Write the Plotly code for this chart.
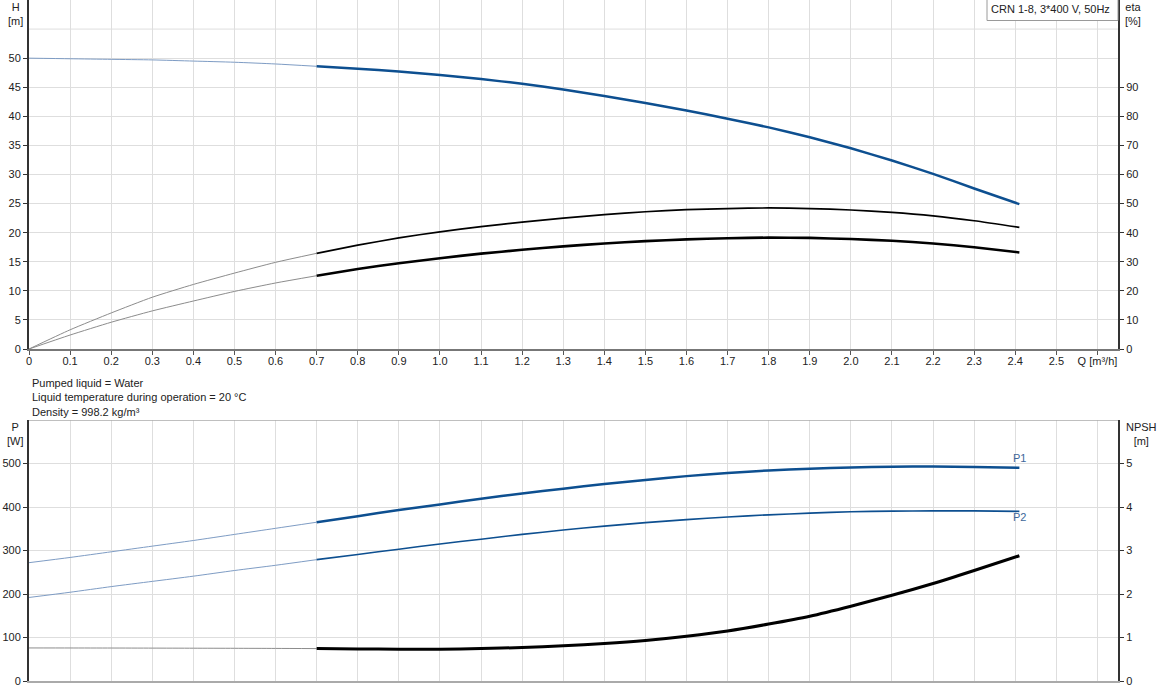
import plotly.graph_objects as go

# ---------------- data ----------------
q_lo = [0, 0.1, 0.2, 0.3, 0.4, 0.5, 0.6, 0.7]
q_hi = [0.7, 0.8, 0.9, 1.0, 1.1, 1.2, 1.3, 1.4, 1.5, 1.6, 1.7, 1.8, 1.9, 2.0, 2.1, 2.2, 2.3, 2.41]

h_lo = [50.0, 49.9, 49.8, 49.7, 49.5, 49.3, 49.0, 48.6]
h_hi = [48.6, 48.2, 47.7, 47.1, 46.4, 45.6, 44.6, 43.5, 42.3, 41.0, 39.6, 38.1,
        36.4, 34.5, 32.4, 30.1, 27.6, 24.9]

eta_a_lo = [0, 6.6, 12.4, 17.8, 22.2, 26.1, 29.8, 32.9]
eta_a_hi = [32.9, 35.7, 38.2, 40.3, 42.1, 43.6, 45.0, 46.2, 47.2, 47.9, 48.3, 48.5,
            48.3, 47.8, 47.0, 45.8, 44.1, 41.8]

eta_b_lo = [0, 4.8, 9.2, 13.1, 16.5, 19.8, 22.7, 25.2]
eta_b_hi = [25.2, 27.5, 29.5, 31.2, 32.8, 34.1, 35.3, 36.3, 37.1, 37.7, 38.1, 38.3,
            38.2, 37.8, 37.2, 36.3, 35.0, 33.2]

p1_lo = [272, 284, 297, 310, 323, 337, 351, 365]
p1_hi = [365, 379, 393, 406, 419, 431, 442, 453, 462, 471, 478, 484,
         488, 491, 492.5, 493, 492, 490]

p2_lo = [192, 204, 217, 229, 241, 254, 266, 279]
p2_hi = [279, 291, 303, 315, 326, 337, 347, 356, 364, 371, 377, 382,
         386, 389, 390.5, 391, 391, 390]

npsh_lo = [0.76, 0.759, 0.758, 0.756, 0.754, 0.752, 0.749, 0.745]
npsh_hi = [0.745, 0.737, 0.732, 0.73, 0.745, 0.77, 0.81, 0.86, 0.93, 1.03, 1.15, 1.31,
           1.49, 1.72, 1.97, 2.24, 2.54, 2.88]

x_ticks = [round(i * 0.1, 1) for i in range(27)]
x_ticktext = ["0"] + [f"{v:.1f}" for v in x_ticks[1:26]] + ["Q [m³/h]"]
h_ticks = [0, 5, 10, 15, 20, 25, 30, 35, 40, 45, 50]
eta_ticks = [0, 10, 20, 30, 40, 50, 60, 70, 80, 90]
p_ticks = [0, 100, 200, 300, 400, 500]
npsh_ticks = [0, 1, 2, 3, 4, 5]

title_text = "CRN 1-8, 3*400 V, 50Hz"
notes = ["Pumped liquid = Water",
         "Liquid temperature during operation = 20 °C",
         "Density = 998.2 kg/m³"]

# ---------------- style ----------------
FONT = "Liberation Sans, Arial, sans-serif"
BLUE = "#0d4f90"
BLUE_THIN = "#7e9cc4"
GREY_THIN = "#8c8c8c"
GRID = "#dedede"
AX = "#333333"

W, H = 1162, 700
ML, MR, MT, MB = 29, 44, 0, 19
PW = W - ML - MR
PH = H - MT - MB


def px(xp):
    return (xp - ML) / PW


def py(yp):
    return (H - MB - yp) / PH


fig = go.Figure()


def add(x, y, color, width, xa, ya):
    fig.add_trace(go.Scatter(x=x, y=y, mode="lines", xaxis=xa, yaxis=ya,
                             line=dict(color=color, width=width, shape="spline", smoothing=0.6),
                             hoverinfo="x+y", showlegend=False))


# top plot
add(q_lo, h_lo, BLUE_THIN, 1, "x", "y")
add(q_hi, h_hi, BLUE, 2.5, "x", "y")
add(q_lo, eta_a_lo, GREY_THIN, 1, "x", "y2")
add(q_hi, eta_a_hi, "#000000", 1.7, "x", "y2")
add(q_lo, eta_b_lo, GREY_THIN, 1, "x", "y2")
add(q_hi, eta_b_hi, "#000000", 2.6, "x", "y2")

# bottom plot
add(q_lo, p1_lo, BLUE_THIN, 1, "x2", "y3")
add(q_hi, p1_hi, BLUE, 2.5, "x2", "y3")
add(q_lo, p2_lo, BLUE_THIN, 1, "x2", "y3")
add(q_hi, p2_hi, BLUE, 1.6, "x2", "y3")
add(q_lo, npsh_lo, GREY_THIN, 1, "x2", "y4")
add(q_hi, npsh_hi, "#000000", 3, "x2", "y4")

tickfont = dict(family=FONT, size=11, color="#222222")

top_dom = [(H - MB - 349) / PH, 1.0]
bot_dom = [0.0, (H - MB - 420) / PH]

fig.update_layout(
    width=W, height=H, autosize=False,
    margin=dict(l=ML, r=MR, t=MT, b=MB, autoexpand=False),
    paper_bgcolor="white", plot_bgcolor="white",
    font=dict(family=FONT, size=11, color="#222222"),
    showlegend=False,
    xaxis=dict(domain=[0, 1], range=[0, 2.65], anchor="y", automargin=False,
               tickmode="array", tickvals=x_ticks, ticktext=x_ticktext,
               ticks="outside", ticklen=4, tickcolor="#555555", ticklabelstandoff=-3,
               showline=True, linecolor="#777777", linewidth=1.5,
               showgrid=True, gridcolor=GRID, gridwidth=1, zeroline=False,
               tickfont=tickfont),
    yaxis=dict(domain=top_dom, range=[0, 60], anchor="x", automargin=False,
               tickmode="array", tickvals=h_ticks,
               ticks="outside", ticklen=4, tickcolor=AX,
               showline=True, linecolor=AX, linewidth=2,
               showgrid=True, gridcolor=GRID, zeroline=False,
               tickfont=tickfont),
    yaxis2=dict(range=[0, 120], overlaying="y", side="right", anchor="x", automargin=False,
                tickmode="array", tickvals=eta_ticks,
                ticks="outside", ticklen=4, tickcolor=AX,
                showline=True, linecolor=AX, linewidth=2,
                showgrid=False, zeroline=False, tickfont=tickfont),
    xaxis2=dict(domain=[0, 1], range=[0, 2.65], anchor="y3", automargin=False,
                tickmode="array", tickvals=x_ticks, showticklabels=False,
                ticks="", showline=True, linecolor="#aaaaaa", linewidth=1.5,
                showgrid=True, gridcolor=GRID, zeroline=False),
    yaxis3=dict(domain=bot_dom, range=[0, 600], anchor="x2", automargin=False,
                tickmode="array", tickvals=p_ticks,
                ticks="outside", ticklen=4, tickcolor=AX,
                showline=True, linecolor=AX, linewidth=2,
                showgrid=True, gridcolor=GRID, zeroline=False,
                tickfont=tickfont),
    yaxis4=dict(range=[0, 6], overlaying="y3", side="right", anchor="x2", automargin=False,
                tickmode="array", tickvals=npsh_ticks,
                ticks="outside", ticklen=4, tickcolor=AX,
                showline=True, linecolor=AX, linewidth=2,
                showgrid=False, zeroline=False, tickfont=tickfont),
)

# extra gridline at H = 55 and top border of lower plot
fig.add_shape(type="line", xref="x", yref="y", x0=0, x1=2.65, y0=55, y1=55,
              line=dict(color=GRID, width=1), layer="below")
fig.add_shape(type="line", xref="x2", yref="y3", x0=0, x1=2.65, y0=600, y1=600,
              line=dict(color="#aaaaaa", width=1.5), layer="above")

# title box top-right
fig.add_shape(type="rect", xref="paper", yref="paper",
              x0=px(987), x1=px(1118), y0=py(20.5), y1=py(-1),
              line=dict(color="#9a9a9a", width=1), fillcolor="white", layer="above")
fig.add_annotation(xref="paper", yref="paper", x=px(989), y=py(9),
                   xanchor="left", yanchor="middle", text=title_text,
                   showarrow=False, font=dict(family=FONT, size=11, color="#222222"))


# axis titles
def axis_title(text, xc, ytop):
    fig.add_annotation(xref="paper", yref="paper", x=px(xc), y=py(ytop),
                       xanchor="center", yanchor="top", text=text, showarrow=False,
                       font=dict(family=FONT, size=11, color="#222222"))


axis_title("H<br>[m]", 15, -1)
axis_title("eta<br>[%]", 1133, -1)
axis_title("P<br>[W]", 15, 419)
axis_title("NPSH<br>[m]", 1141, 419)

# notes
fig.add_annotation(xref="paper", yref="paper", x=px(30), y=py(375),
                   xanchor="left", yanchor="top", align="left",
                   text="<br>".join(notes), showarrow=False,
                   font=dict(family=FONT, size=11, color="#222222"))

# P1 / P2 labels
fig.add_annotation(xref="x2", yref="y3", x=q_hi[-1], y=p1_hi[-1], yshift=10,
                   text="P1", showarrow=False,
                   font=dict(family=FONT, size=11, color="#3d679a"))
fig.add_annotation(xref="x2", yref="y3", x=q_hi[-1], y=p2_hi[-1], yshift=-6,
                   text="P2", showarrow=False,
                   font=dict(family=FONT, size=11, color="#3d679a"))

post = ("document.body.style.margin='0px';"
        "document.body.style.overflow='hidden';"
        "var gd=document.getElementById('{plot_id}');"
        "Plotly.relayout(gd,{width:1162,height:700});")

fig.write_html("out.html", config={"responsive": False, "displayModeBar": False},
               default_width="1162px", default_height="700px", post_script=post)
